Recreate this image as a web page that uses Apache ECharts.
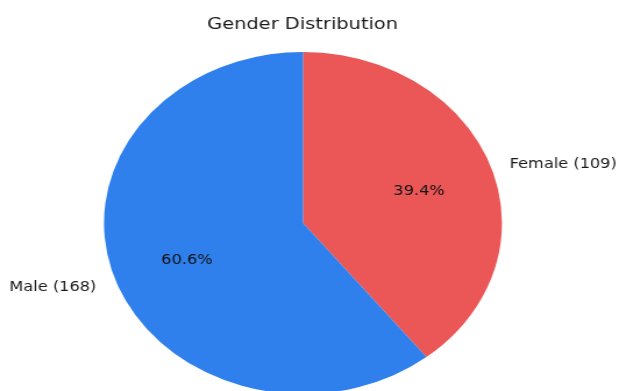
<!DOCTYPE html>
<html>
<head>
<meta charset="utf-8">
<script src="https://cdn.jsdelivr.net/npm/echarts@6/dist/echarts.min.js"></script>
<style>
html,body{margin:0;padding:0;overflow:hidden;background:#fff;}
#wrap{width:619px;height:391px;overflow:hidden;}
#chart{width:532px;height:391px;transform:scaleX(1.1635);transform-origin:0 0;}
</style>
</head>
<body>
<div id="wrap"><div id="chart"></div></div>
<script>
const categories = ['Female', 'Male'];
const counts = [109, 168];
const colors = ['#EB5757', '#2F80ED'];
const titleText = 'Gender Distribution';

const chart = echarts.init(document.getElementById('chart'), null, {renderer: 'canvas'});
const font = 'DejaVu Sans';
const R = 171;
const center = [260.4, 223];
const data = categories.map((c, i) => ({name: c, value: counts[i], itemStyle: {color: colors[i]}}));

chart.setOption({
  animation: false,
  backgroundColor: '#fff',
  title: {
    text: titleText,
    left: 178, top: 16, padding: 0,
    textStyle: {fontFamily: font, fontSize: 16.7, fontWeight: 'normal', color: '#1a1a1a'}
  },
  series: [
    {
      type: 'pie',
      center: center,
      radius: [0, R],
      startAngle: 90,
      clockwise: true,
      avoidLabelOverlap: false,
      silent: true,
      itemStyle: {borderWidth: 0},
      label: {
        show: true, position: 'outside',
        formatter: '{b} ({c})',
        fontFamily: font, fontSize: 13.9, color: '#1a1a1a',
        distanceToLabelLine: 0,
        offset: [0, 3]
      },
      labelLine: {show: false, length: 0.1 * R, length2: 0},
      data: data
    },
    {
      type: 'pie',
      center: center,
      radius: [0.2 * R, R],
      startAngle: 90,
      clockwise: true,
      avoidLabelOverlap: false,
      silent: true,
      percentPrecision: 1,
      itemStyle: {color: 'rgba(0,0,0,0)', borderWidth: 0},
      label: {
        show: true, position: 'inside',
        formatter: '{d}%',
        fontFamily: font, fontSize: 13.9, color: '#111',
        offset: [0, 3]
      },
      labelLine: {show: false},
      data: categories.map((c, i) => ({name: c, value: counts[i]}))
    }
  ]
});
</script>
</body>
</html>
